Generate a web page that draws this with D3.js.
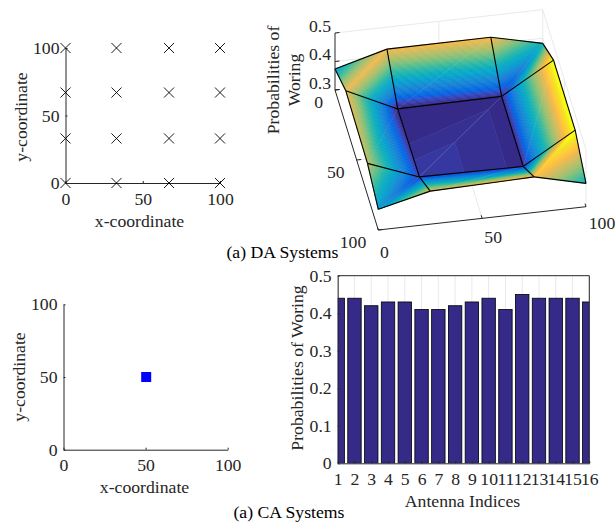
<!DOCTYPE html>
<html>
<head>
<meta charset="utf-8">
<script src="https://cdn.jsdelivr.net/npm/d3@7"></script>
<style>
  html, body { margin: 0; padding: 0; background: #fff; }
  text { font-family: "Liberation Serif", serif; font-size: 17.7px; fill: #262626; }
  .caption { fill: #000; }
  .domain, .tick line { stroke: #262626; stroke-width: 1; }
</style>
</head>
<body>
<div id="chart"></div>
<script>
// Data
var daX = [0, 33, 67, 100];
var daY = [0, 33, 67, 100];
var caX = [50];
var caY = [50];
var axisTicks = [0, 50, 100];

var gridX = [0, 25, 75, 100];
var gridY = [0, 25, 75, 100];
var surfaceZ = [
  [0.374, 0.423, 0.424, 0.382],
  [0.420, 0.336, 0.339, 0.446],
  [0.411, 0.343, 0.339, 0.446],
  [0.3725, 0.416, 0.425, 0.382]
];
var colorLimits = [0.338, 0.443];
var zTicks = [0.3, 0.4, 0.5];

var antennas = d3.range(1, 17);
var antennaProb = [0.44, 0.44, 0.42, 0.43, 0.43, 0.41, 0.41, 0.42, 0.43, 0.44, 0.41, 0.45, 0.44, 0.44, 0.44, 0.43];
var probTicks = [0, 0.1, 0.2, 0.3, 0.4, 0.5];

// old matlab parula
var parula = [
  [0.2081,0.1663,0.5292],[0.2116,0.1898,0.5777],[0.2123,0.2138,0.6270],[0.2081,0.2386,0.6771],
  [0.1959,0.2645,0.7279],[0.1707,0.2919,0.7792],[0.1253,0.3242,0.8303],[0.0591,0.3598,0.8683],
  [0.0117,0.3875,0.8820],[0.0060,0.4086,0.8828],[0.0165,0.4266,0.8786],[0.0329,0.4430,0.8720],
  [0.0498,0.4586,0.8641],[0.0629,0.4737,0.8554],[0.0723,0.4887,0.8467],[0.0779,0.5040,0.8384],
  [0.0793,0.5200,0.8312],[0.0749,0.5375,0.8263],[0.0641,0.5570,0.8240],[0.0488,0.5772,0.8228],
  [0.0343,0.5966,0.8199],[0.0265,0.6137,0.8135],[0.0239,0.6287,0.8038],[0.0231,0.6418,0.7913],
  [0.0228,0.6535,0.7768],[0.0267,0.6642,0.7607],[0.0384,0.6743,0.7436],[0.0590,0.6838,0.7254],
  [0.0843,0.6928,0.7062],[0.1133,0.7015,0.6859],[0.1453,0.7098,0.6646],[0.1801,0.7177,0.6424],
  [0.2178,0.7250,0.6193],[0.2586,0.7317,0.5954],[0.3022,0.7376,0.5712],[0.3482,0.7424,0.5473],
  [0.3953,0.7459,0.5244],[0.4420,0.7481,0.5033],[0.4871,0.7491,0.4840],[0.5300,0.7491,0.4661],
  [0.5709,0.7485,0.4494],[0.6099,0.7473,0.4337],[0.6473,0.7456,0.4188],[0.6834,0.7435,0.4044],
  [0.7184,0.7411,0.3905],[0.7525,0.7384,0.3768],[0.7858,0.7356,0.3633],[0.8185,0.7327,0.3498],
  [0.8507,0.7299,0.3360],[0.8824,0.7274,0.3217],[0.9139,0.7258,0.3063],[0.9450,0.7261,0.2886],
  [0.9739,0.7314,0.2666],[0.9938,0.7455,0.2403],[0.9990,0.7653,0.2164],[0.9955,0.7861,0.1967],
  [0.9880,0.8066,0.1794],[0.9789,0.8271,0.1633],[0.9697,0.8481,0.1475],[0.9626,0.8705,0.1309],
  [0.9589,0.8949,0.1132],[0.9598,0.9218,0.0948],[0.9661,0.9514,0.0755],[0.9763,0.9831,0.0538]
];

var svg = d3.select("#chart").append("svg")
  .attr("width", 615)
  .attr("height", 522)
  .style("display", "block");

// matlab style axes, ticks point inward
function scatterAxes(x, y, xLabelX, xLabelY, yLabelX, yLabelY) {
  var g = svg.append("g");
  g.append("g")
    .attr("transform", `translate(0, ${y.range()[0]})`)
    .call(d3.axisBottom(x).tickValues(axisTicks).tickSizeInner(-2).tickSizeOuter(0).tickPadding(9));
  g.append("g")
    .attr("transform", `translate(${x.range()[0]}, 0)`)
    .call(d3.axisLeft(y).tickValues(axisTicks).tickSizeInner(-2).tickSizeOuter(0).tickPadding(6));
  g.selectAll("g").attr("font-family", null).attr("font-size", null);
  g.append("text")
    .attr("x", xLabelX)
    .attr("y", xLabelY)
    .attr("text-anchor", "middle")
    .text("x-coordinate");
  g.append("text")
    .attr("transform", `translate(${yLabelX}, ${yLabelY}) rotate(-90)`)
    .attr("text-anchor", "middle")
    .text("y-coordinate");
}

// Top left: DA antenna positions
var xTop = d3.scaleLinear().domain([0, 100]).range([65.5, 220]);
var yTop = d3.scaleLinear().domain([0, 100]).range([183, 48]);
scatterAxes(xTop, yTop, 139.5, 227, 27, 117);

var crossPoints = d3.cross(daX, daY);
svg.append("g").selectAll("path")
  .data(crossPoints)
  .enter()
  .append("path")
  .attr("d", d3.symbol(d3.symbolTimes, 68))
  .attr("transform", d => `translate(${xTop(d[0])}, ${yTop(d[1])})`)
  .attr("fill", "none")
  .attr("stroke", "#000")
  .attr("stroke-width", 0.9);

// Top right: surface, a fixed oblique projection of the 3D axes
var xPx = d3.scaleLinear().domain([0, 100]).range([0, 207.7]);
var xPy = d3.scaleLinear().domain([0, 100]).range([0, -23.3]);
var yPx = d3.scaleLinear().domain([0, 100]).range([0, 43.3]);
var yPy = d3.scaleLinear().domain([0, 100]).range([0, 140]);
var zPy = d3.scaleLinear().domain([0.3, 0.5]).range([0, -57]);
var levels = d3.scaleLinear().domain(colorLimits).range([0, 64]);

function project(x, y, z) {
  return [335 + xPx(x) + yPx(y), 90 + xPy(x) + yPy(y) + zPy(z)];
}
function line3d(g, a, b, color, width) {
  var p = project(a[0], a[1], a[2]), q = project(b[0], b[1], b[2]);
  return g.append("line")
    .attr("x1", p[0]).attr("y1", p[1]).attr("x2", q[0]).attr("y2", q[1])
    .attr("stroke", color).attr("stroke-width", width);
}

var box = svg.append("g");
var gridColor = "#e3e3e3";
// floor, back wall and side wall grid
line3d(box, [50, 0, 0.3], [50, 100, 0.3], gridColor, 0.8);
line3d(box, [0, 50, 0.3], [100, 50, 0.3], gridColor, 0.8);
line3d(box, [50, 0, 0.3], [50, 0, 0.5], gridColor, 0.8);
line3d(box, [0, 0, 0.4], [100, 0, 0.4], gridColor, 0.8);
line3d(box, [100, 0, 0.4], [100, 100, 0.4], gridColor, 0.8);
line3d(box, [100, 50, 0.3], [100, 50, 0.5], gridColor, 0.8);
line3d(box, [0, 0, 0.5], [100, 0, 0.5], gridColor, 0.8);
line3d(box, [100, 0, 0.3], [100, 0, 0.5], gridColor, 0.8);
line3d(box, [100, 0, 0.5], [100, 100, 0.5], gridColor, 0.8);
line3d(box, [100, 100, 0.3], [100, 100, 0.5], gridColor, 0.8);

// each cell is split along one diagonal, each triangle is cut into one polygon per colormap level
function clipZ(poly, limit, keepAbove) {
  var out = [];
  poly.forEach(function(p, i) {
    var q = poly[(i + 1) % poly.length];
    var pIn = keepAbove ? p[3] >= limit : p[3] <= limit;
    var qIn = keepAbove ? q[3] >= limit : q[3] <= limit;
    if (pIn) out.push(p);
    if (pIn !== qIn) {
      var t = (limit - p[3]) / (q[3] - p[3]);
      out.push(p.map((v, k) => v + (q[k] - v) * t));
    }
  });
  return out;
}
var bands = [];
function addTriangle(a, b, c) {
  var tri = [a, b, c].map(p => [p[0], p[1], p[2], levels(p[2])]);
  parula.forEach(function(rgb, k) {
    var poly = tri;
    if (k > 0) poly = clipZ(poly, k, true);
    if (k < parula.length - 1 && poly.length) poly = clipZ(poly, k + 1, false);
    if (poly.length > 2) {
      bands.push({points: poly, color: d3.rgb(rgb[0] * 255, rgb[1] * 255, rgb[2] * 255).formatHex()});
    }
  });
}
gridY.slice(0, -1).forEach(function(y0, r) {
  gridX.slice(0, -1).forEach(function(x0, c) {
    var a = [x0, y0, surfaceZ[r][c]];
    var b = [gridX[c + 1], y0, surfaceZ[r][c + 1]];
    var d = [x0, gridY[r + 1], surfaceZ[r + 1][c]];
    var e = [gridX[c + 1], gridY[r + 1], surfaceZ[r + 1][c + 1]];
    addTriangle(a, b, d);
    addTriangle(e, b, d);
  });
});

svg.append("g").selectAll("path")
  .data(bands)
  .enter()
  .append("path")
  .attr("d", f => "M" + f.points.map(p => project(p[0], p[1], p[2]).join(",")).join("L") + "Z")
  .attr("fill", f => f.color)
  .attr("stroke", f => f.color)
  .attr("stroke-width", 0.6)
  .attr("stroke-linejoin", "round");

// faint seams on the cell diagonals
var mesh = svg.append("g");
gridY.slice(0, -1).forEach(function(y0, r) {
  gridX.slice(0, -1).forEach(function(x0, c) {
    line3d(mesh, [gridX[c + 1], y0, surfaceZ[r][c + 1]], [x0, gridY[r + 1], surfaceZ[r + 1][c]], "#fff", 0.4)
      .attr("opacity", 0.3);
  });
});
// mesh lines
surfaceZ.forEach(function(row, r) {
  row.forEach(function(z, c) {
    if (c < 3) line3d(mesh, [gridX[c], gridY[r], z], [gridX[c + 1], gridY[r], row[c + 1]], "#000", 1.1);
    if (r < 3) line3d(mesh, [gridX[c], gridY[r], z], [gridX[c], gridY[r + 1], surfaceZ[r + 1][c]], "#000", 1.1);
  });
});

// 3D axes
var axes3d = svg.append("g");
var axisInk = "#262626";
line3d(axes3d, [0, 0, 0.3], [0, 0, 0.5], axisInk, 1);
line3d(axes3d, [0, 0, 0.3], [0, 100, 0.3], axisInk, 1);
line3d(axes3d, [0, 100, 0.3], [100, 100, 0.3], axisInk, 1);
zTicks.forEach(function(t) {
  line3d(axes3d, [0, 0, t], [2.2, 0, t], axisInk, 1);
  var p = project(0, 0, t);
  axes3d.append("text").attr("x", p[0] - 4).attr("y", p[1] - 1.5).attr("text-anchor", "end").text(d3.format(".1f")(t));
});
axisTicks.forEach(function(t) {
  line3d(axes3d, [0, t, 0.3], [2.2, t, 0.3], axisInk, 1);
  line3d(axes3d, [t, 100, 0.3], [t, 97.8, 0.3], axisInk, 1);
  var py = project(0, t, 0.3);
  axes3d.append("text").attr("x", py[0] - 12).attr("y", py[1] + 18).attr("text-anchor", "end").text(t);
  var px = project(t, 100, 0.3);
  axes3d.append("text").attr("x", px[0] + 6 + t * 0.1).attr("y", px[1] + 28 - t * 0.06).attr("text-anchor", "middle").text(t);
});
svg.append("text")
  .attr("transform", "translate(279, 80) rotate(-90)")
  .attr("text-anchor", "middle")
  .text("Probabilities of");
svg.append("text")
  .attr("transform", "translate(300, 80) rotate(-90)")
  .attr("text-anchor", "middle")
  .text("Woring");

svg.append("text")
  .attr("class", "caption")
  .attr("x", 282.5)
  .attr("y", 258)
  .attr("text-anchor", "middle")
  .text("(a) DA Systems");

// Bottom left: CA antenna position
var xBot = d3.scaleLinear().domain([0, 100]).range([63.5, 227.7]);
var yBot = d3.scaleLinear().domain([0, 100]).range([449.7, 304.3]);
scatterAxes(xBot, yBot, 144.5, 493, 25, 377);

svg.append("g").selectAll("rect")
  .data(caX)
  .enter()
  .append("rect")
  .attr("x", (d) => xBot(d) - 4.4)
  .attr("y", (d, i) => yBot(caY[i]) - 5)
  .attr("width", 10)
  .attr("height", 10)
  .attr("fill", "#0000ff");

// Bottom right: antenna bars, xlim cuts the first and last bar in half
var xBar = d3.scaleLinear().domain([1, 16]).range([337.7, 589.3]);
var yBar = d3.scaleLinear().domain([0, 0.5]).range([463.3, 275.7]);
var barWidth = (xBar(2) - xBar(1)) * 0.8;

svg.append("defs").append("clipPath").attr("id", "barClip")
  .append("rect")
  .attr("x", xBar(1))
  .attr("y", yBar(0.5))
  .attr("width", xBar(16) - xBar(1))
  .attr("height", yBar(0) - yBar(0.5));

svg.append("g").selectAll("line")
  .data(antennas)
  .enter()
  .append("line")
  .attr("x1", d => xBar(d)).attr("x2", d => xBar(d))
  .attr("y1", yBar(0)).attr("y2", yBar(0.5))
  .attr("stroke", "#e3e3e3")
  .attr("stroke-width", 0.8);

svg.append("g")
  .attr("clip-path", "url(#barClip)")
  .selectAll("rect")
  .data(antennaProb)
  .enter()
  .append("rect")
  .attr("x", (d, i) => xBar(antennas[i]) - barWidth / 2)
  .attr("y", d => yBar(d))
  .attr("width", barWidth)
  .attr("height", d => yBar(0) - yBar(d))
  .attr("fill", "#352a87")
  .attr("stroke", "#000")
  .attr("stroke-width", 0.8);

var barAxes = svg.append("g");
barAxes.append("g")
  .attr("transform", `translate(0, ${yBar(0)})`)
  .call(d3.axisBottom(xBar).tickValues(antennas).tickFormat(d3.format("d")).tickSizeInner(-2).tickSizeOuter(0).tickPadding(9));
barAxes.append("g")
  .attr("transform", `translate(${xBar(1)}, 0)`)
  .call(d3.axisLeft(yBar).tickValues(probTicks).tickFormat(d => d === 0 ? "0" : d3.format(".1f")(d)).tickSizeInner(-2).tickSizeOuter(0).tickPadding(6));
barAxes.append("line").attr("x1", xBar(1)).attr("x2", xBar(16)).attr("y1", yBar(0.5)).attr("y2", yBar(0.5)).attr("stroke", "#262626");
barAxes.append("line").attr("x1", xBar(16)).attr("x2", xBar(16)).attr("y1", yBar(0)).attr("y2", yBar(0.5)).attr("stroke", "#262626");
barAxes.selectAll("g").attr("font-family", null).attr("font-size", null);
barAxes.append("text")
  .attr("x", 462.5)
  .attr("y", 507)
  .attr("text-anchor", "middle")
  .text("Antenna Indices");
barAxes.append("text")
  .attr("transform", "translate(303, 368) rotate(-90)")
  .attr("text-anchor", "middle")
  .text("Probabilities of Woring");

svg.append("text")
  .attr("class", "caption")
  .attr("x", 289)
  .attr("y", 518)
  .attr("text-anchor", "middle")
  .text("(a) CA Systems");
</script>
</body>
</html>
